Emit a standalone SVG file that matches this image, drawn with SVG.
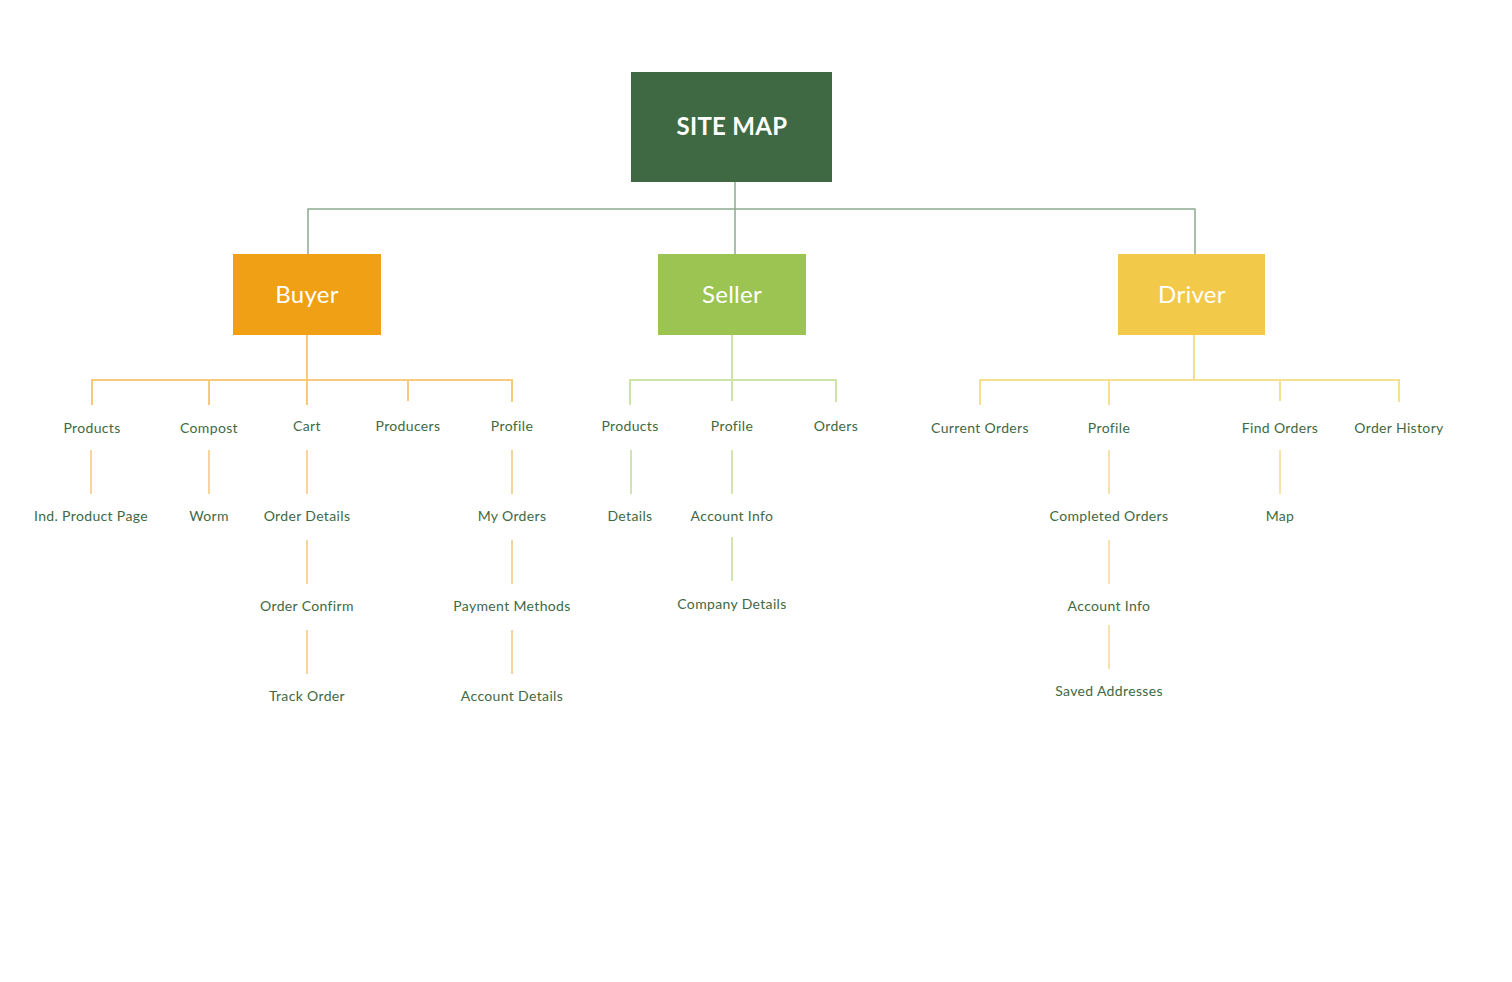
<svg xmlns="http://www.w3.org/2000/svg" width="1512" height="982" viewBox="0 0 1512 982">
<style>
.lbl{font-family:Lato,"Open Sans","Liberation Sans",sans-serif;font-size:14px;letter-spacing:0.35px;fill:#3f6943;text-anchor:middle}
.hd{font-family:Lato,"Open Sans","Liberation Sans",sans-serif;font-size:24px;letter-spacing:0.3px;fill:#ffffff;text-anchor:middle}
.top{font-family:Lato,"Open Sans","Liberation Sans",sans-serif;font-size:24px;font-weight:bold;letter-spacing:0.3px;fill:#ffffff;text-anchor:middle}
.c0{stroke:#8fab90;stroke-width:1.5;fill:none}
.cb{stroke:#f7c97c;stroke-width:2;fill:none}
.cb2{stroke:#eba83c;stroke-width:1;fill:none}
.cs{stroke:#cde3a8;stroke-width:2;fill:none}
.cs2{stroke:#c3dc98;stroke-width:1.5;fill:none}
.cd{stroke:#f8df90;stroke-width:2;fill:none}
.cd2{stroke:#f1c65a;stroke-width:1;fill:none}
</style>
<rect width="1512" height="982" fill="#ffffff"/>
<g id="connectors">
<path class="c0" d="M735 182V254M308 254V209H1195V254"/>
<path class="cb" d="M307 335V405M92 405V380H512V402M209 380V405M408 380V401"/>
<path class="cb2" d="M91 450V494M209 450V494M307 450V494M512 450V494M307 540V584M512 540V584M307 630V674M512 630V674"/>
<path class="cs" d="M732 335V401M630 405V380H836V402"/>
<path class="cs2" d="M631 450V494M732 450V494M732 537V581"/>
<path class="cd" d="M1194 335V380M980 405V380H1399V402M1109 380V405M1280 380V401"/>
<path class="cd2" d="M1109 450V494M1280 450V494M1109 540V584M1109 625V669"/>
</g>
<g id="sitemap"><rect x="631" y="72" width="201" height="110" fill="#3f6943"/><text class="top" x="732" y="135">SITE MAP</text></g>
<g id="buyer"><rect x="233" y="254" width="148" height="81" fill="#f0a014"/><text class="hd" x="307" y="303">Buyer</text></g>
<g id="seller"><rect x="658" y="254" width="148" height="81" fill="#9bc453"/><text class="hd" x="732" y="303">Seller</text></g>
<g id="driver"><rect x="1118" y="254" width="147" height="81" fill="#f3c94a"/><text class="hd" x="1192" y="303">Driver</text></g>
<g id="buyer-items">
<text class="lbl" x="92" y="433">Products</text>
<text class="lbl" x="209" y="433">Compost</text>
<text class="lbl" x="307" y="431">Cart</text>
<text class="lbl" x="408" y="431">Producers</text>
<text class="lbl" x="512" y="431">Profile</text>
<text class="lbl" x="91" y="521">Ind. Product Page</text>
<text class="lbl" x="209" y="521">Worm</text>
<text class="lbl" x="307" y="521">Order Details</text>
<text class="lbl" x="512" y="521">My Orders</text>
<text class="lbl" x="307" y="611">Order Confirm</text>
<text class="lbl" x="512" y="611">Payment Methods</text>
<text class="lbl" x="307" y="701">Track Order</text>
<text class="lbl" x="512" y="701">Account Details</text>
</g>
<g id="seller-items">
<text class="lbl" x="630" y="431">Products</text>
<text class="lbl" x="732" y="431">Profile</text>
<text class="lbl" x="836" y="431">Orders</text>
<text class="lbl" x="630" y="521">Details</text>
<text class="lbl" x="732" y="521">Account Info</text>
<text class="lbl" x="732" y="609">Company Details</text>
</g>
<g id="driver-items">
<text class="lbl" x="980" y="433">Current Orders</text>
<text class="lbl" x="1109" y="433">Profile</text>
<text class="lbl" x="1280" y="433">Find Orders</text>
<text class="lbl" x="1399" y="433">Order History</text>
<text class="lbl" x="1109" y="521">Completed Orders</text>
<text class="lbl" x="1280" y="521">Map</text>
<text class="lbl" x="1109" y="611">Account Info</text>
<text class="lbl" x="1109" y="696">Saved Addresses</text>
</g>
</svg>
